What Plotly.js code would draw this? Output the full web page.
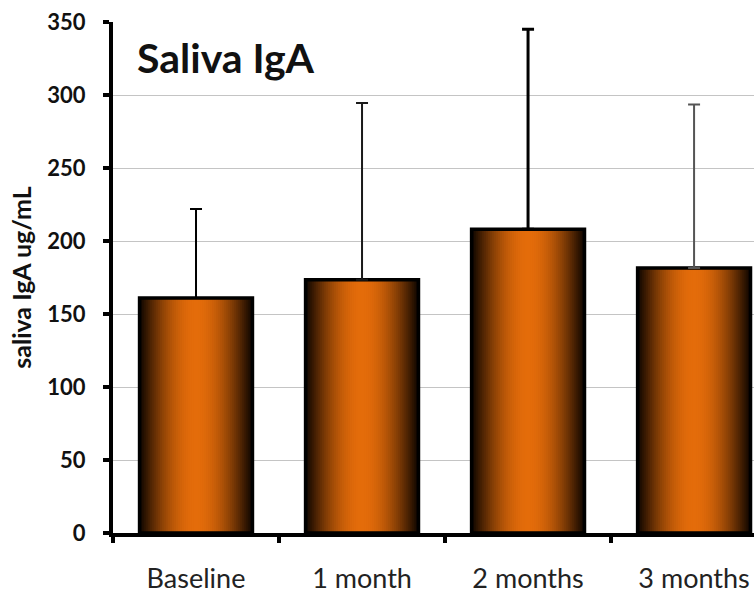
<!DOCTYPE html>
<html>
<head>
<meta charset="utf-8">
<script src="https://cdn.plot.ly/plotly-3.0.1.min.js"></script>
<style>html,body{margin:0;padding:0;background:#fff;overflow:hidden;}#chart{width:754px;height:596px;}</style>
</head>
<body>
<div id="chart"></div>
<script>
// ---- data ----
const categories = ['Baseline', '1 month', '2 months', '3 months'];
const meanIgA = [161, 173.5, 208, 181.5];
const sdUpper = [61, 121, 137, 112];
const yTickValues = [0, 50, 100, 150, 200, 250, 300, 350];

// ---- styles ----
const errColors = ['#000000', '#1a1a1a', '#000000', '#555555'];
const errThickness = [2, 2, 3, 2];
const barWidth = 0.68;
const steps = 28;
const dark = [12, 4, 0];
const orange = [228, 108, 10];

function mix(a, b, t) {
  return 'rgb(' + a.map((v, i) => Math.round(v + (b[i] - v) * t)).join(',') + ')';
}

const traces = [];
for (let k = 0; k < steps; k++) {
  const u = (k + 0.5) / steps; // 0 edge -> 1 centre
  const g = Math.sin(u * Math.PI / 2);
  traces.push({
    type: 'bar', x: categories, y: meanIgA,
    width: barWidth * (1 - k / steps),
    marker: { color: mix(dark, orange, g), line: { width: 0 } },
    hoverinfo: 'skip', showlegend: false
  });
}
// outline
traces.push({
  type: 'bar', x: categories, y: meanIgA, width: barWidth,
  marker: { color: 'rgba(0,0,0,0)', line: { color: '#000', width: 3.5 } },
  hoverinfo: 'skip', showlegend: false
});
// error bars (upper only)
categories.forEach((c, i) => {
  traces.push({
    type: 'scatter', mode: 'markers', x: [c], y: [meanIgA[i]],
    marker: { opacity: 0, size: 1 },
    error_y: { type: 'data', symmetric: false, array: [sdUpper[i]], arrayminus: [0],
               color: errColors[i], thickness: errThickness[i], width: 6 },
    hoverinfo: 'skip', showlegend: false
  });
});

const layout = {
  width: 754, height: 596,
  margin: { l: 113, r: 0, t: 22, b: 63 },
  paper_bgcolor: '#fff', plot_bgcolor: '#fff',
  barmode: 'overlay',
  showlegend: false,
  hovermode: false,
  font: { family: 'Lato, "Open Sans", sans-serif', color: '#111' },
  xaxis: {
    type: 'category', range: [-0.5, 3.361],
    showline: true, linecolor: '#000', linewidth: 4,
    ticks: 'outside', tickson: 'boundaries', ticklen: 6, tickwidth: 4, tickcolor: '#000',
    showgrid: false, zeroline: false,
    tickfont: { family: 'Lato, sans-serif', size: 27, color: '#222' },
    ticklabelstandoff: 19
  },
  yaxis: {
    range: [0, 350], tickvals: yTickValues,
    showline: true, linecolor: '#000', linewidth: 4,
    ticks: 'outside', ticklen: 6, tickwidth: 4, tickcolor: '#000',
    showgrid: true, gridcolor: '#c4c4c4', gridwidth: 1, zeroline: false,
    tickfont: { family: 'Lato, sans-serif', size: 22, color: '#111', weight: 'bold' },
    ticklabelstandoff: 13,
    title: { text: 'saliva IgA ug/mL', standoff: 10,
             font: { family: 'Lato, sans-serif', size: 25, color: '#111', weight: 'bold' } }
  },
  annotations: [{
    text: 'Saliva IgA', xref: 'paper', yref: 'paper',
    x: 0.035, y: 0.93, xanchor: 'left', yanchor: 'middle', showarrow: false,
    font: { family: 'Lato, sans-serif', size: 41, color: '#111', weight: 'bold' }
  }]
};

Plotly.newPlot('chart', traces, layout, { staticPlot: true, displayModeBar: false });
</script>
</body>
</html>
